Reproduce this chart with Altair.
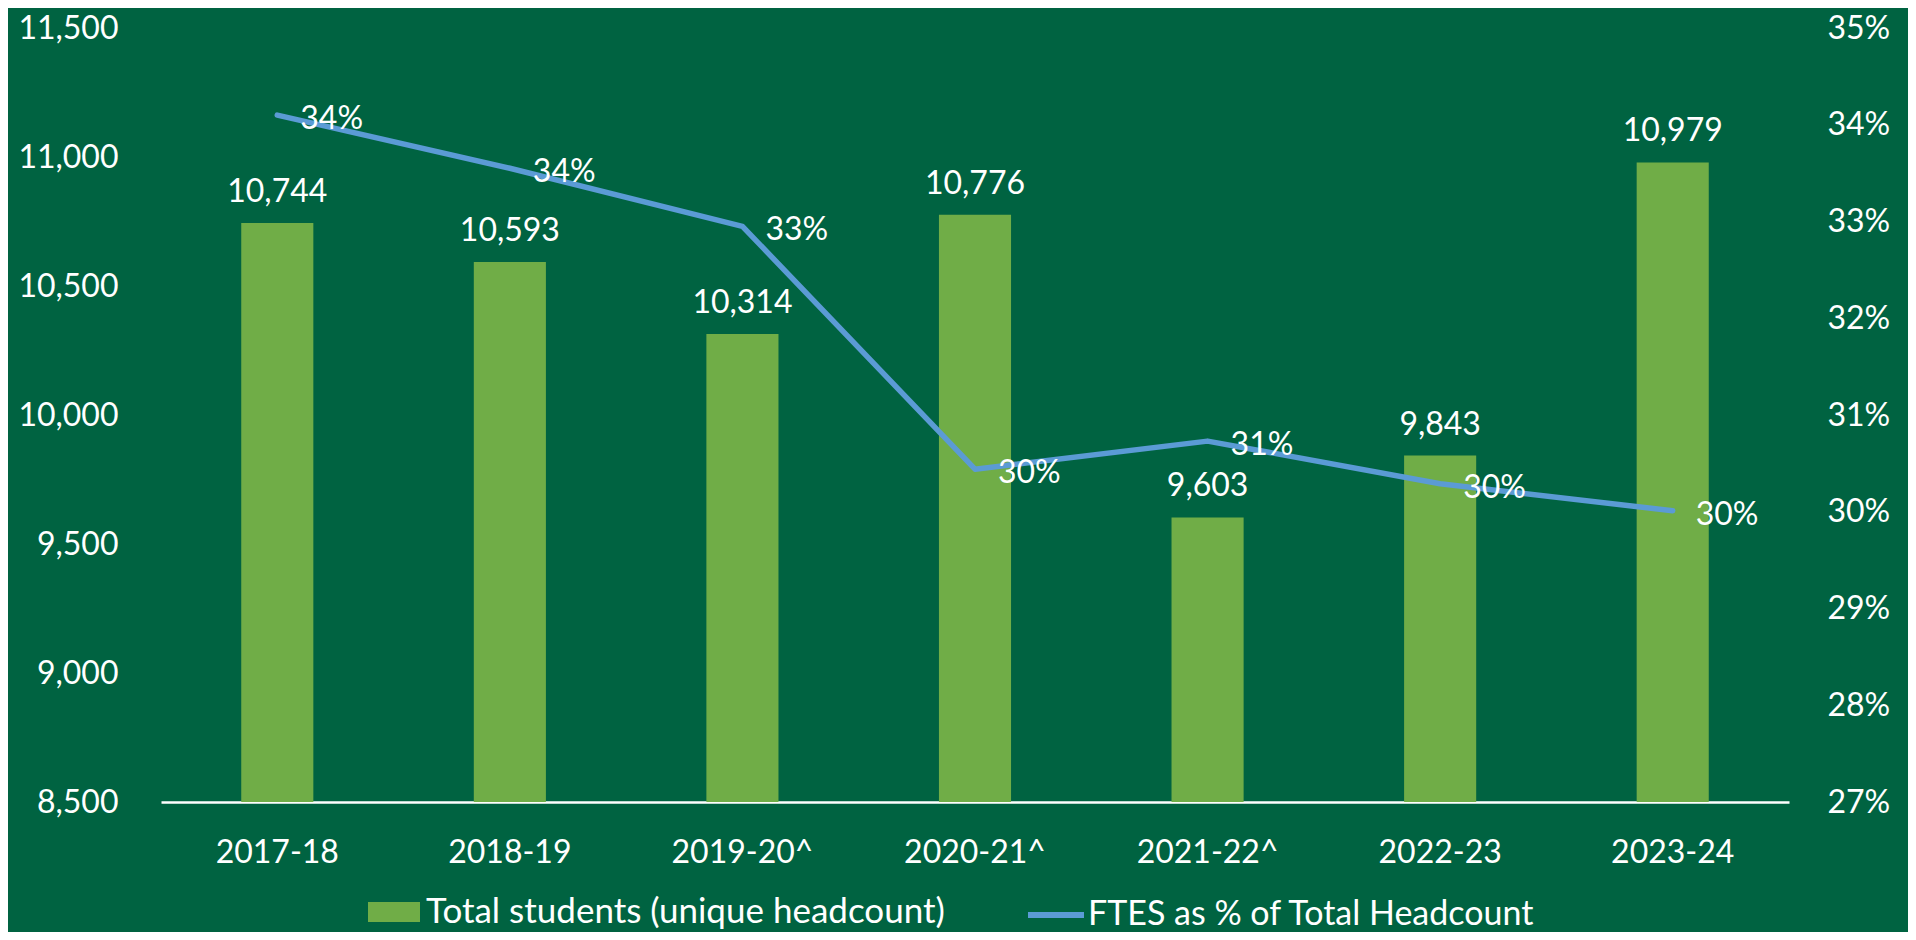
import altair as alt
import pandas as pd

years = ["2017-18", "2018-19", "2019-20^", "2020-21^", "2021-22^", "2022-23", "2023-24"]
students = [10744, 10593, 10314, 10776, 9603, 9843, 10979]
ftes_pct = [0.3410, 0.3355, 0.3295, 0.3044, 0.3073, 0.3029, 0.3001]
left_ticks = [8500, 9000, 9500, 10000, 10500, 11000, 11500]
right_ticks = [0.27, 0.28, 0.29, 0.30, 0.31, 0.32, 0.33, 0.34, 0.35]
bar_series = "Total students (unique headcount)"
line_series = "FTES as % of Total Headcount"

BG = "#006341"
BAR = "#70AD47"
LINE = "#5B9BD5"
FONT = "Lato"

df = pd.DataFrame({
    "year": years,
    "students": students,
    "pct": ftes_pct,
    "s1": [bar_series] * len(years),
    "s2": [line_series] * len(years),
})

x = alt.X("year:N", sort=years, title=None,
          scale=alt.Scale(paddingInner=0.69, paddingOuter=0.345),
          axis=alt.Axis(labelAngle=0, labelFontSize=32, labelFont=FONT, labelColor="white",
                        labelPadding=35, ticks=False, domainColor="white", domainWidth=2.5,
                        labelBaseline="top"))

left_axis = alt.Axis(values=left_ticks, format=",d", labelFontSize=32, labelFont=FONT,
                     labelColor="white", labelPadding=43, domain=False, ticks=False,
                     grid=False, orient="left")
left_scale = alt.Scale(domain=[8500, 11500], nice=False, zero=False)

right_axis = alt.Axis(values=right_ticks, format=".0%", labelFontSize=32, labelFont=FONT,
                      labelColor="white", labelPadding=38, domain=False, ticks=False,
                      grid=False, orient="right")
right_scale = alt.Scale(domain=[0.27, 0.35], nice=False, zero=False)

bars = alt.Chart(df).mark_bar(color=BAR, clip=True).encode(
    x=x,
    y=alt.Y("students:Q", title=None, scale=left_scale, axis=left_axis),
    fill=alt.Fill("s1:N", scale=alt.Scale(range=[BAR]),
                  legend=alt.Legend(orient="none", legendX=213, legendY=864, title=None,
                                    symbolType="M-1.3,-0.5H1.3V0.5H-1.3Z", symbolSize=1600,
                                    symbolStrokeWidth=0, labelFontSize=35, labelFont=FONT,
                                    labelColor="white", labelOffset=12, padding=0,
                                    labelLimit=0)),
)

bar_text = alt.Chart(df).mark_text(color="white", font=FONT, fontSize=32, baseline="middle",
                                    dy=-31).encode(
    x=alt.X("year:N", sort=years),
    y=alt.Y("students:Q", title=None, scale=left_scale, axis=left_axis),
    text=alt.Text("students:Q", format=","),
)

line = alt.Chart(df).mark_line(strokeWidth=5.5, strokeJoin="round", strokeCap="round").encode(
    x=alt.X("year:N", sort=years),
    y=alt.Y("pct:Q", title=None, scale=right_scale, axis=right_axis),
    stroke=alt.Stroke("s2:N", scale=alt.Scale(range=[LINE]),
                      legend=alt.Legend(orient="none", legendX=872, legendY=864, title=None,
                                        symbolType="M-1.4,0H1.4", symbolSize=1600,
                                        symbolStrokeWidth=6, labelFontSize=34, labelFont=FONT,
                                        labelColor="white", labelOffset=9, padding=0,
                                        labelLimit=0)),
)

line_text = alt.Chart(df).mark_text(color="white", font=FONT, fontSize=32, baseline="middle",
                                     align="left", dx=23, dy=4).encode(
    x=alt.X("year:N", sort=years),
    y=alt.Y("pct:Q", title=None, scale=right_scale, axis=right_axis),
    text=alt.Text("pct:Q", format=".0%"),
)

left = alt.layer(bars, bar_text)
right = alt.layer(line, line_text)

chart = alt.layer(left, right).resolve_scale(y="independent").properties(
    width=1628, height=774,
    autosize=alt.AutoSizeParams(type="none"),
    padding={"left": 153, "top": 20, "right": 119, "bottom": 130},
    background=BG,
).configure_view(stroke=None)

chart.save("out.html", embed_options={"renderer": "svg", "actions": False})
